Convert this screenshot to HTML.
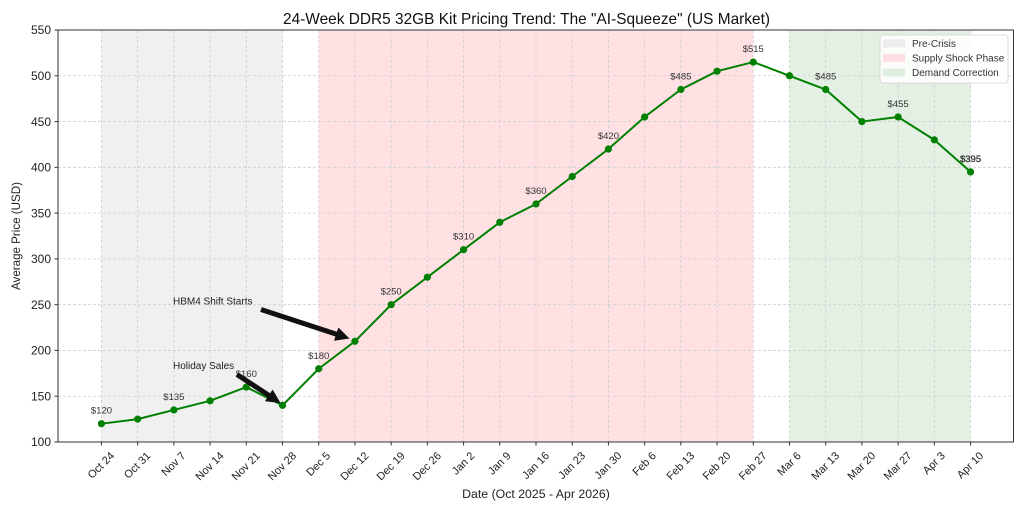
<!DOCTYPE html>
<html>
<head>
<meta charset="utf-8">
<style>
  html,body{margin:0;padding:0;background:#fff;}
  svg{display:block;}
  text{font-family:"Liberation Sans", sans-serif;}
</style>
</head>
<body>
<svg width="1024" height="512" viewBox="0 0 1024 512" xmlns="http://www.w3.org/2000/svg">
  <rect x="0" y="0" width="1024" height="512" fill="#fff"/>

  <!-- shaded regions -->
  <rect x="101.45" y="30" width="181.06" height="412" fill="#f0f0f0"/>
  <rect x="318.73" y="30" width="434.54" height="412" fill="#ffe1e4"/>
  <rect x="789.48" y="30" width="181.07" height="412" fill="#e4f0e3"/>

  <!-- grid -->
  <g stroke="#cfcfcf" stroke-width="0.8" stroke-dasharray="3,2" fill="none">
    <line x1="101.45" y1="30" x2="101.45" y2="442"/>
    <line x1="137.67" y1="30" x2="137.67" y2="442"/>
    <line x1="173.88" y1="30" x2="173.88" y2="442"/>
    <line x1="210.09" y1="30" x2="210.09" y2="442"/>
    <line x1="246.30" y1="30" x2="246.30" y2="442"/>
    <line x1="282.51" y1="30" x2="282.51" y2="442"/>
    <line x1="318.73" y1="30" x2="318.73" y2="442"/>
    <line x1="354.94" y1="30" x2="354.94" y2="442"/>
    <line x1="391.15" y1="30" x2="391.15" y2="442"/>
    <line x1="427.36" y1="30" x2="427.36" y2="442"/>
    <line x1="463.58" y1="30" x2="463.58" y2="442"/>
    <line x1="499.79" y1="30" x2="499.79" y2="442"/>
    <line x1="536.00" y1="30" x2="536.00" y2="442"/>
    <line x1="572.21" y1="30" x2="572.21" y2="442"/>
    <line x1="608.42" y1="30" x2="608.42" y2="442"/>
    <line x1="644.64" y1="30" x2="644.64" y2="442"/>
    <line x1="680.85" y1="30" x2="680.85" y2="442"/>
    <line x1="717.06" y1="30" x2="717.06" y2="442"/>
    <line x1="753.27" y1="30" x2="753.27" y2="442"/>
    <line x1="789.48" y1="30" x2="789.48" y2="442"/>
    <line x1="825.70" y1="30" x2="825.70" y2="442"/>
    <line x1="861.91" y1="30" x2="861.91" y2="442"/>
    <line x1="898.12" y1="30" x2="898.12" y2="442"/>
    <line x1="934.33" y1="30" x2="934.33" y2="442"/>
    <line x1="970.55" y1="30" x2="970.55" y2="442"/>
    <line x1="58" y1="396.22" x2="1013.5" y2="396.22"/>
    <line x1="58" y1="350.44" x2="1013.5" y2="350.44"/>
    <line x1="58" y1="304.67" x2="1013.5" y2="304.67"/>
    <line x1="58" y1="258.89" x2="1013.5" y2="258.89"/>
    <line x1="58" y1="213.11" x2="1013.5" y2="213.11"/>
    <line x1="58" y1="167.33" x2="1013.5" y2="167.33"/>
    <line x1="58" y1="121.56" x2="1013.5" y2="121.56"/>
    <line x1="58" y1="75.78" x2="1013.5" y2="75.78"/>
  </g>

  <!-- series line -->
  <polyline fill="none" stroke="#008000" stroke-width="2" stroke-linejoin="round"
    points="101.45,423.69 137.67,419.11 173.88,409.96 210.09,400.80 246.30,387.07 282.51,405.38 318.73,368.76 354.94,341.29 391.15,304.67 427.36,277.20 463.58,249.73 499.79,222.27 536.00,203.96 572.21,176.49 608.42,149.02 644.64,116.98 680.85,89.51 717.06,71.20 753.27,62.04 789.48,75.78 825.70,89.51 861.91,121.56 898.12,116.98 934.33,139.87 970.55,171.91"/>
  <g fill="#008000">
    <circle cx="101.45" cy="423.69" r="3.6"/>
    <circle cx="137.67" cy="419.11" r="3.6"/>
    <circle cx="173.88" cy="409.96" r="3.6"/>
    <circle cx="210.09" cy="400.80" r="3.6"/>
    <circle cx="246.30" cy="387.07" r="3.6"/>
    <circle cx="282.51" cy="405.38" r="3.6"/>
    <circle cx="318.73" cy="368.76" r="3.6"/>
    <circle cx="354.94" cy="341.29" r="3.6"/>
    <circle cx="391.15" cy="304.67" r="3.6"/>
    <circle cx="427.36" cy="277.20" r="3.6"/>
    <circle cx="463.58" cy="249.73" r="3.6"/>
    <circle cx="499.79" cy="222.27" r="3.6"/>
    <circle cx="536.00" cy="203.96" r="3.6"/>
    <circle cx="572.21" cy="176.49" r="3.6"/>
    <circle cx="608.42" cy="149.02" r="3.6"/>
    <circle cx="644.64" cy="116.98" r="3.6"/>
    <circle cx="680.85" cy="89.51" r="3.6"/>
    <circle cx="717.06" cy="71.20" r="3.6"/>
    <circle cx="753.27" cy="62.04" r="3.6"/>
    <circle cx="789.48" cy="75.78" r="3.6"/>
    <circle cx="825.70" cy="89.51" r="3.6"/>
    <circle cx="861.91" cy="121.56" r="3.6"/>
    <circle cx="898.12" cy="116.98" r="3.6"/>
    <circle cx="934.33" cy="139.87" r="3.6"/>
    <circle cx="970.55" cy="171.91" r="3.6"/>
  </g>

  <!-- value labels -->
  <g font-size="9.5" fill="#333" text-anchor="middle">
    <text x="101.45" y="413.7">$120</text>
    <text x="173.88" y="400">$135</text>
    <text x="246.30" y="377.1">$160</text>
    <text x="318.73" y="358.8">$180</text>
    <text x="391.15" y="294.7">$250</text>
    <text x="463.58" y="239.7">$310</text>
    <text x="536.00" y="194">$360</text>
    <text x="608.42" y="139">$420</text>
    <text x="680.85" y="79.5">$485</text>
    <text x="753.27" y="52">$515</text>
    <text x="825.70" y="79.5">$485</text>
    <text x="898.12" y="107">$455</text>
    <text x="970.55" y="162" stroke="#333" stroke-width="0.3">$395</text>
  </g>

  <!-- annotations -->
  <g font-size="10" fill="#222">
    <text x="173" y="304.5">HBM4 Shift Starts</text>
    <text x="173" y="369">Holiday Sales</text>
  </g>
  <polygon fill="#111" points="261.78,307.12 336.97,331.76 338.37,327.49 349.5,338.5 334.01,340.79 335.41,336.52 260.22,311.88"/>
  <polygon fill="#111" points="238.37,372.41 270.16,393.24 272.63,389.47 280.5,403 264.95,401.19 267.42,397.42 235.63,376.59"/>

  <!-- spines -->
  <rect x="58" y="30" width="955.5" height="412" fill="none" stroke="#333" stroke-width="1"/>

  <!-- ticks -->
  <g stroke="#333" stroke-width="1">
    <line x1="101.45" y1="442" x2="101.45" y2="445.5"/>
    <line x1="137.67" y1="442" x2="137.67" y2="445.5"/>
    <line x1="173.88" y1="442" x2="173.88" y2="445.5"/>
    <line x1="210.09" y1="442" x2="210.09" y2="445.5"/>
    <line x1="246.30" y1="442" x2="246.30" y2="445.5"/>
    <line x1="282.51" y1="442" x2="282.51" y2="445.5"/>
    <line x1="318.73" y1="442" x2="318.73" y2="445.5"/>
    <line x1="354.94" y1="442" x2="354.94" y2="445.5"/>
    <line x1="391.15" y1="442" x2="391.15" y2="445.5"/>
    <line x1="427.36" y1="442" x2="427.36" y2="445.5"/>
    <line x1="463.58" y1="442" x2="463.58" y2="445.5"/>
    <line x1="499.79" y1="442" x2="499.79" y2="445.5"/>
    <line x1="536.00" y1="442" x2="536.00" y2="445.5"/>
    <line x1="572.21" y1="442" x2="572.21" y2="445.5"/>
    <line x1="608.42" y1="442" x2="608.42" y2="445.5"/>
    <line x1="644.64" y1="442" x2="644.64" y2="445.5"/>
    <line x1="680.85" y1="442" x2="680.85" y2="445.5"/>
    <line x1="717.06" y1="442" x2="717.06" y2="445.5"/>
    <line x1="753.27" y1="442" x2="753.27" y2="445.5"/>
    <line x1="789.48" y1="442" x2="789.48" y2="445.5"/>
    <line x1="825.70" y1="442" x2="825.70" y2="445.5"/>
    <line x1="861.91" y1="442" x2="861.91" y2="445.5"/>
    <line x1="898.12" y1="442" x2="898.12" y2="445.5"/>
    <line x1="934.33" y1="442" x2="934.33" y2="445.5"/>
    <line x1="970.55" y1="442" x2="970.55" y2="445.5"/>
    <line x1="54.5" y1="442" x2="58" y2="442"/>
    <line x1="54.5" y1="396.22" x2="58" y2="396.22"/>
    <line x1="54.5" y1="350.44" x2="58" y2="350.44"/>
    <line x1="54.5" y1="304.67" x2="58" y2="304.67"/>
    <line x1="54.5" y1="258.89" x2="58" y2="258.89"/>
    <line x1="54.5" y1="213.11" x2="58" y2="213.11"/>
    <line x1="54.5" y1="167.33" x2="58" y2="167.33"/>
    <line x1="54.5" y1="121.56" x2="58" y2="121.56"/>
    <line x1="54.5" y1="75.78" x2="58" y2="75.78"/>
    <line x1="54.5" y1="30" x2="58" y2="30"/>
  </g>

  <!-- y tick labels -->
  <g font-size="12" fill="#222" text-anchor="end">
    <text x="51" y="446.2">100</text>
    <text x="51" y="400.4">150</text>
    <text x="51" y="354.6">200</text>
    <text x="51" y="308.9">250</text>
    <text x="51" y="263.1">300</text>
    <text x="51" y="217.3">350</text>
    <text x="51" y="171.5">400</text>
    <text x="51" y="125.8">450</text>
    <text x="51" y="80">500</text>
    <text x="51" y="34.2">550</text>
  </g>

  <!-- x tick labels (rotated 45) -->
  <g font-size="11" fill="#222" text-anchor="middle" dominant-baseline="central">
    <text transform="translate(101.45,465.7) rotate(-45)">Oct 24</text>
    <text transform="translate(137.67,465.7) rotate(-45)">Oct 31</text>
    <text transform="translate(173.88,464.4) rotate(-45)">Nov 7</text>
    <text transform="translate(210.09,466.6) rotate(-45)">Nov 14</text>
    <text transform="translate(246.30,466.6) rotate(-45)">Nov 21</text>
    <text transform="translate(282.51,466.6) rotate(-45)">Nov 28</text>
    <text transform="translate(318.73,464.4) rotate(-45)">Dec 5</text>
    <text transform="translate(354.94,466.6) rotate(-45)">Dec 12</text>
    <text transform="translate(391.15,466.6) rotate(-45)">Dec 19</text>
    <text transform="translate(427.36,466.6) rotate(-45)">Dec 26</text>
    <text transform="translate(463.58,463.8) rotate(-45)">Jan 2</text>
    <text transform="translate(499.79,463.8) rotate(-45)">Jan 9</text>
    <text transform="translate(536.00,465.9) rotate(-45)">Jan 16</text>
    <text transform="translate(572.21,465.9) rotate(-45)">Jan 23</text>
    <text transform="translate(608.42,465.9) rotate(-45)">Jan 30</text>
    <text transform="translate(644.64,464.2) rotate(-45)">Feb 6</text>
    <text transform="translate(680.85,466.3) rotate(-45)">Feb 13</text>
    <text transform="translate(717.06,466.3) rotate(-45)">Feb 20</text>
    <text transform="translate(753.27,466.3) rotate(-45)">Feb 27</text>
    <text transform="translate(789.48,464.2) rotate(-45)">Mar 6</text>
    <text transform="translate(825.70,466.3) rotate(-45)">Mar 13</text>
    <text transform="translate(861.91,466.3) rotate(-45)">Mar 20</text>
    <text transform="translate(898.12,466.3) rotate(-45)">Mar 27</text>
    <text transform="translate(934.33,463.5) rotate(-45)">Apr 3</text>
    <text transform="translate(970.55,465.7) rotate(-45)">Apr 10</text>
  </g>

  <!-- axis labels and title -->
  <text x="536" y="498" font-size="12.3" fill="#222" text-anchor="middle">Date (Oct 2025 - Apr 2026)</text>
  <text transform="translate(20,236) rotate(-90)" font-size="12" fill="#222" text-anchor="middle" textLength="108" lengthAdjust="spacingAndGlyphs">Average Price (USD)</text>
  <text x="283" y="24" font-size="16" fill="#111" textLength="487" lengthAdjust="spacingAndGlyphs">24-Week DDR5 32GB Kit Pricing Trend: The "AI-Squeeze" (US Market)</text>

  <!-- legend -->
  <rect x="880" y="35" width="128" height="48" rx="3" ry="3" fill="#fff" fill-opacity="0.85" stroke="#d0d0d0" stroke-width="0.8"/>
  <rect x="883" y="39.5" width="22" height="8" fill="#ececec"/>
  <rect x="883" y="54" width="22" height="8" fill="#ffdde1"/>
  <rect x="883" y="68.5" width="22" height="8" fill="#e0eedf"/>
  <g font-size="10" fill="#333">
    <text x="912" y="47">Pre-Crisis</text>
    <text x="912" y="61.5">Supply Shock Phase</text>
    <text x="912" y="76">Demand Correction</text>
  </g>
</svg>
</body>
</html>
